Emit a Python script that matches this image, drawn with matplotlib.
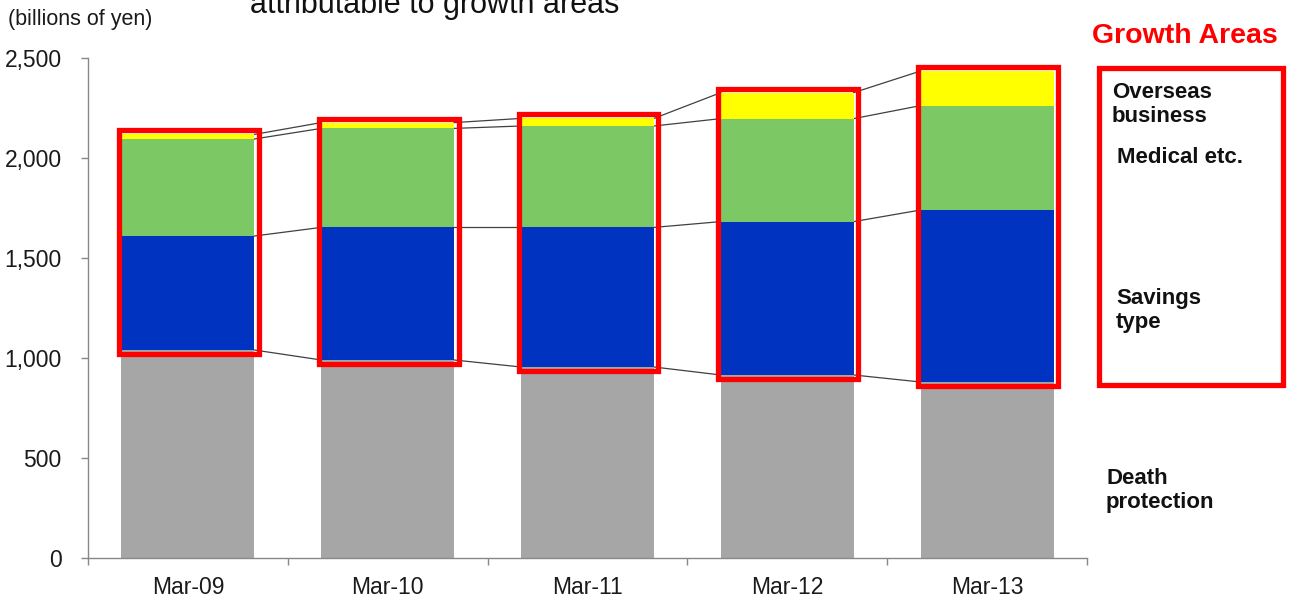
import matplotlib.pyplot as plt
from matplotlib.patches import Rectangle
import numpy as np

plt.rcParams['font.family'] = ['Liberation Sans', 'DejaVu Sans']

# 保有契約の内訳（十億円）
years = ['Mar-09', 'Mar-10', 'Mar-11', 'Mar-12', 'Mar-13']
death_protection = [1040, 990, 955, 915, 880]
savings_type = [570, 663, 698, 767, 860]
medical = [485, 495, 507, 515, 522]
overseas = [23, 29, 38, 130, 173]

colors = ['#a6a6a6', '#0033c0', '#7cc864', '#ffff00']
bar_w = 0.665

fig = plt.figure(figsize=(12.95, 6.01), dpi=100)
ax = fig.add_axes([88 / 1295, 43 / 601, 999 / 1295, 500 / 601])

x = np.arange(len(years))
layers = [death_protection, savings_type, medical, overseas]
bottom = np.zeros(len(years))
levels = []
for vals, c in zip(layers, colors):
    ax.bar(x, vals, bar_w, bottom=bottom, color=c, zorder=2)
    bottom = bottom + np.array(vals)
    levels.append(bottom.copy())

# 各層の上端を隣の棒とつなぐ線
for lv in levels:
    for i in range(len(years) - 1):
        ax.plot([x[i] + bar_w / 2, x[i + 1] - bar_w / 2], [lv[i], lv[i + 1]],
                color='#404040', lw=0.9, zorder=1)

# 成長分野を囲む赤枠
for i in range(len(years)):
    y0 = death_protection[i] - 20
    y1 = levels[-1][i] + 20
    ax.add_patch(Rectangle((x[i] - 0.345, y0), 0.70, y1 - y0, fill=False,
                           edgecolor='#ff0000', lw=3.8, zorder=3, clip_on=False))

ax.set_xlim(-0.5, len(years) - 0.5)
ax.set_ylim(0, 2500)
ax.set_yticks([0, 500, 1000, 1500, 2000, 2500])
ax.set_yticklabels(['0', '500', '1,000', '1,500', '2,000', '2,500'])
ax.set_xticks(x)
ax.set_xticklabels(years)
ax.set_xticks(np.arange(-0.5, len(years), 1.0), minor=True)
ax.tick_params(axis='x', which='major', length=0, pad=13, labelsize=16.5, labelcolor='#1a1a1a')
ax.tick_params(axis='x', which='minor', length=5, color='#888888', width=1)
ax.tick_params(axis='y', length=5, color='#888888', width=1, pad=14, labelsize=16.5,
               labelcolor='#1a1a1a')
for s in ['top', 'right']:
    ax.spines[s].set_visible(False)
for s in ['left', 'bottom']:
    ax.spines[s].set_color('#888888')
    ax.spines[s].set_linewidth(1)

def fx(px):
    return px / 1295

def fy(py):
    return 1 - py / 601

fig.text(fx(250), fy(13), 'attributable to growth areas', fontsize=22, color='#111111',
         va='baseline', ha='left')
fig.text(fx(8), fy(25), '(billions of yen)', fontsize=15.5, color='#1a1a1a',
         va='baseline', ha='left')

fig.text(fx(1092), fy(43), 'Growth Areas', fontsize=20.5, fontweight='bold',
         color='#ff0000', va='baseline', ha='left')
fig.patches.append(Rectangle((fx(1098.5), fy(384.5)), fx(1282.5) - fx(1098.5),
                             fy(67.5) - fy(384.5), transform=fig.transFigure,
                             fill=False, edgecolor='#ff0000', lw=3.8))

# 複数行の文字は最終行のベースラインで位置合わせ
label_kw = dict(fontsize=16, fontweight='bold', color='#111111', va='baseline', ha='left',
                linespacing=1.2)
fig.text(fx(1112), fy(122), 'Overseas\nbusiness', **label_kw)
fig.text(fx(1117), fy(163), 'Medical etc.', **label_kw)
fig.text(fx(1116), fy(328), 'Savings\ntype', **label_kw)
fig.text(fx(1106), fy(508), 'Death\nprotection', **label_kw)

fig.savefig('out.png', dpi=100)
